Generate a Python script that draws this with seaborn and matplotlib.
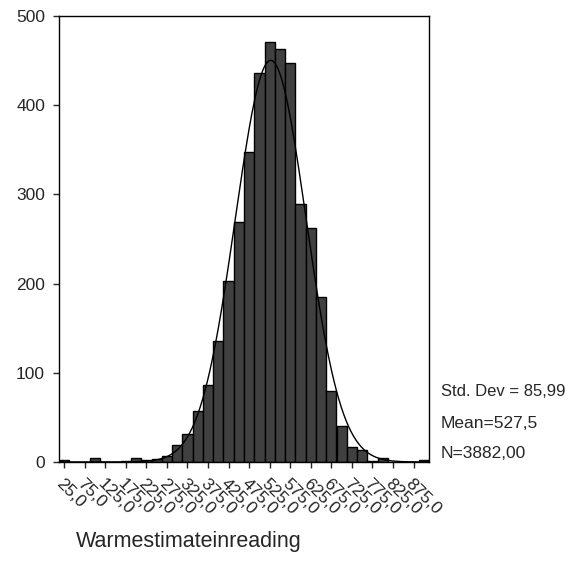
import numpy as np
import pandas as pd
import seaborn as sns
import matplotlib.pyplot as plt

# bin midpoints (width 25) and counts
bin_centers = [25, 50, 75, 100, 125, 150, 175, 200, 225, 250, 275, 300,
               325, 350, 375, 400, 425, 450, 475, 500, 525, 550, 575, 600,
               625, 650, 675, 700, 725, 750, 775, 800, 825, 850, 875, 900]
counts = [2, 0, 0, 4, 0, 0, 1, 4, 2, 3, 7, 19,
          31, 57, 86, 136, 203, 269, 347, 436, 471, 463, 447, 289,
          262, 185, 80, 40, 17, 14, 1, 4, 0, 0, 0, 2]
tick_values = list(range(25, 876, 50))
tick_labels = [f"{v},0" for v in tick_values]

mean_val = 527.5
sd_val = 85.99
n_val = 3882
bin_width = 25

df = pd.DataFrame({'score': bin_centers, 'count': counts})

sns.set_style("ticks")
plt.rcParams['font.family'] = ['Liberation Sans', 'DejaVu Sans']

fig = plt.figure(figsize=(5.82, 5.73), dpi=100)
ax = fig.add_axes([59 / 582, 1 - 462 / 573, 370 / 582, 446 / 573])

sns.histplot(data=df, x='score', weights='count', binwidth=bin_width,
             binrange=(12.5, 912.5), color='#404040',
             edgecolor='black', linewidth=1.0, alpha=1, ax=ax)

# fitted normal curve
xs = np.linspace(12.5, 912.5, 600)
ys = n_val * bin_width / (sd_val * np.sqrt(2 * np.pi)) * np.exp(-0.5 * ((xs - mean_val) / sd_val) ** 2)
ax.plot(xs, ys, color='black', linewidth=1.0)

ax.set_xlim(12.5, 912.5)
ax.set_ylim(0, 500)
ax.set_yticks([0, 100, 200, 300, 400, 500])
ax.set_xticks(tick_values)
ax.set_xticklabels(tick_labels, rotation=-45, ha='left', va='top',
                   rotation_mode='anchor', fontsize=12.5)
ax.tick_params(axis='y', labelsize=12.5, length=4, width=1, direction='out', pad=6)
ax.tick_params(axis='x', length=4, width=1, direction='out', pad=6)
ax.set_xlabel('')
ax.set_ylabel('')
for s in ax.spines.values():
    s.set_visible(True)
    s.set_linewidth(1.0)
    s.set_color('black')

fig.text(441 / 582, 1 - 391 / 573, 'Std. Dev = 85,99', fontsize=12, va='center')
fig.text(441 / 582, 1 - 423 / 573, 'Mean=527,5', fontsize=12.5, va='center')
fig.text(441 / 582, 1 - 453 / 573, 'N=3882,00', fontsize=12.5, va='center')
fig.text(76 / 582, 1 - 541 / 573, 'Warmestimateinreading', fontsize=15.5, va='center')

fig.savefig('out.png', dpi=100)
